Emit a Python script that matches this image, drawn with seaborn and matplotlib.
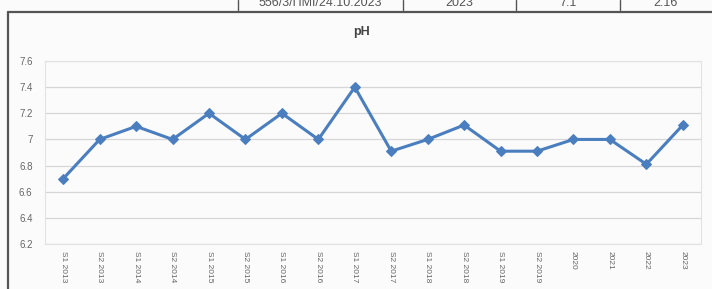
import numpy as np
import pandas as pd
import matplotlib.pyplot as plt
import seaborn as sns
from matplotlib.lines import Line2D

periods = ['S1 2013', 'S2 2013', 'S1 2014', 'S2 2014', 'S1 2015', 'S2 2015',
           'S1 2016', 'S2 2016', 'S1 2017', 'S2 2017', 'S1 2018', 'S2 2018',
           'S1 2019', 'S2 2019', '2020', '2021', '2022', '2023']
ph = [6.7, 7.0, 7.1, 7.0, 7.2, 7.0, 7.2, 7.0, 7.4, 6.91, 7.0, 7.11,
      6.91, 6.91, 7.0, 7.0, 6.81, 7.11]
yticks = [6.2, 6.4, 6.6, 6.8, 7.0, 7.2, 7.4, 7.6]
ytick_labels = ['6.2', '6.4', '6.6', '6.8', '7', '7.2', '7.4', '7.6']
table_cells = ['556/3/ПМІ/24.10.2023', '2023', '7.1', '2.16']

df = pd.DataFrame({'period': periods, 'pH': ph})

sns.set_style('white')
plt.rcParams['font.family'] = ['Liberation Sans', 'DejaVu Sans']

fig = plt.figure(figsize=(7.12, 2.89), dpi=100)
fig.patch.set_facecolor('#fbfbfb')
ax = fig.add_axes([45 / 712, 1 - 244 / 289, 656 / 712, 183 / 289])
ax.set_facecolor('#fbfbfb')

sns.lineplot(data=df, x='period', y='pH', ax=ax, sort=False,
             color='#4a7ebf', linewidth=2.2, marker='D', markersize=5,
             markeredgecolor='#4a7ebf')

ax.set_xlim(-0.5, len(periods) - 0.5)
ax.set_ylim(6.2, 7.6)
ax.set_yticks(yticks)
ax.set_yticklabels(ytick_labels, fontsize=7, color='#666666')
ax.set_xticks(range(len(periods)))
ax.set_xticklabels(periods, rotation=-90, fontsize=6, color='#666666')
ax.tick_params(axis='both', length=0)
ax.tick_params(axis='y', pad=9)
ax.tick_params(axis='x', pad=5)
ax.yaxis.grid(True, color='#d6d6d6', linewidth=0.9)
ax.set_xlabel('')
ax.set_ylabel('')
for s in ax.spines.values():
    s.set_color('#e2e2e2')
    s.set_linewidth(0.8)

fig.text(362 / 712, 1 - 32 / 289, 'pH', ha='center', va='center',
         fontsize=9, fontweight='bold', color='#444444')

# chart frame
fig.add_artist(Line2D([8 / 712, 1], [1 - 12 / 289, 1 - 12 / 289],
                      color='#555555', linewidth=1.6))
fig.add_artist(Line2D([8 / 712, 8 / 712], [0, 1 - 12 / 289],
                      color='#555555', linewidth=1.6))

# table fragment above the chart (cut off by the scan edge, as in the source)
edges = [238, 403, 516, 620, 712]
for xe in edges[:-1]:
    fig.add_artist(Line2D([xe / 712, xe / 712], [1 - 10 / 289, 1],
                          color='#555555', linewidth=1.0))
for i, txt in enumerate(table_cells):
    xc = (edges[i] + edges[i + 1]) / 2 / 712
    fig.text(xc, 1 - 3 / 289, txt, ha='center', va='center',
             fontsize=9, color='#555555')

fig.savefig('out.png', dpi=100, facecolor=fig.get_facecolor())
